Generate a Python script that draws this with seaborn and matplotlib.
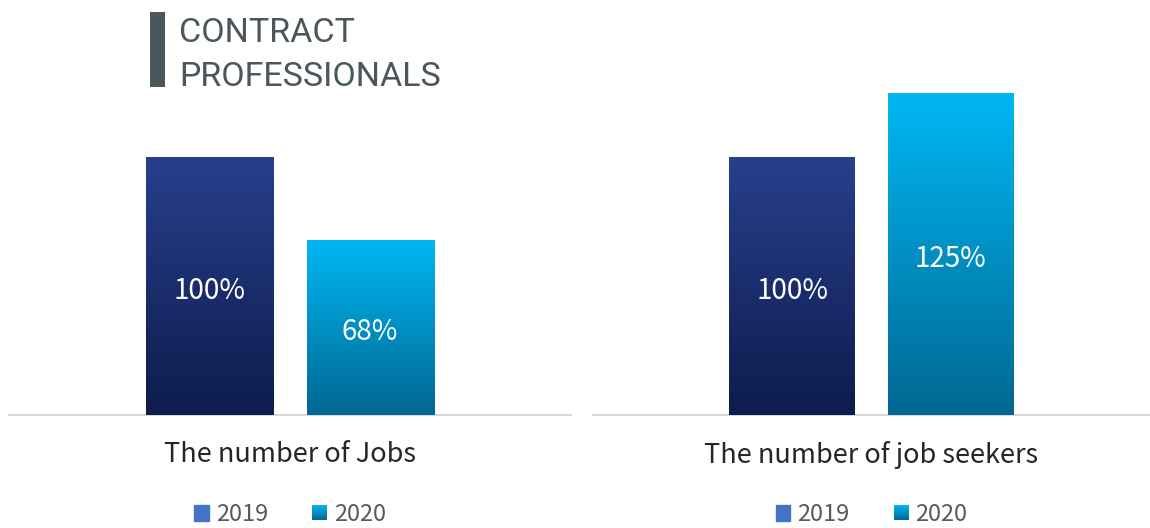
import numpy as np
import pandas as pd
import seaborn as sns
import matplotlib.pyplot as plt
from matplotlib.legend_handler import HandlerBase
from matplotlib.image import BboxImage
from matplotlib.transforms import Bbox, TransformedBbox
from matplotlib.colors import LinearSegmentedColormap
from matplotlib.patches import Rectangle

# --- data -------------------------------------------------------------
categories = ["The number of Jobs", "The number of job seekers"]
years = ["2019", "2020"]
jobs = [100, 68]
job_seekers = [100, 125]
brand = ["CONTRACT", "PROFESSIONALS"]

# --- style ------------------------------------------------------------
sns.set_theme(style="white")
plt.rcParams["font.family"] = ["Noto Sans CJK JP", "DejaVu Sans"]

W, H = 1150, 528
fig = plt.figure(figsize=(W / 100, H / 100), dpi=100)

cmap_2019 = LinearSegmentedColormap.from_list("c2019", ["#273f8c", "#0e1c4c"])
cmap_2020 = LinearSegmentedColormap.from_list("c2020", ["#00b7f3", "#006893"])
legend_2019 = "#4472c4"
axis_grey = "#d9d9d9"
text_dark = "#262626"
legend_grey = "#595959"


class GradientSquare(HandlerBase):
    """Legend handle drawn as a square filled with a vertical gradient."""

    def __init__(self, cmap):
        super().__init__()
        self.cmap = cmap

    def create_artists(self, legend, orig_handle, xdescent, ydescent,
                       width, height, fontsize, trans):
        s = min(width, height)
        bb = Bbox.from_bounds(-xdescent + (width - s) / 2,
                              -ydescent + (height - s) / 2, s, s)
        img = BboxImage(TransformedBbox(bb, trans), cmap=self.cmap,
                        interpolation="bicubic", origin="upper")
        img.set_data(np.linspace(0, 1, 64).reshape(-1, 1))
        return [img]


def px_axes(x0, x1, ybase, ytop):
    return fig.add_axes([x0 / W, (H - ybase) / H, (x1 - x0) / W, (ybase - ytop) / H])


def panel(ax, category, values):
    df = pd.DataFrame({"cat": [category] * len(years), "year": years, "value": values})
    sns.barplot(data=df, x="cat", y="value", hue="year",
                palette=[legend_2019, "#00a0dc"], saturation=1,
                width=0.57, gap=0.207, ax=ax, legend=False)
    for cont, cmap in zip(ax.containers, [cmap_2019, cmap_2020]):
        for bar in cont:
            x0, w, h = bar.get_x(), bar.get_width(), bar.get_height()
            ax.imshow(np.linspace(0, 1, 128).reshape(-1, 1), cmap=cmap,
                      extent=[x0, x0 + w, 0, h], origin="upper",
                      aspect="auto", interpolation="bicubic", zorder=2)
            bar.set_visible(False)
        texts = ax.bar_label(cont, labels=[f"{v:.0f}%" for v in cont.datavalues],
                             label_type="center", color="white", fontsize=20, zorder=3)
        for t in texts:
            t.xyann = (0, -3.5)
    ax.set_xlim(-0.5, 0.5)
    ax.set_ylim(0, 140)
    ax.set_yticks([])
    ax.set_xlabel("")
    ax.set_ylabel("")
    ax.set_xticks([0])
    ax.set_xticklabels([category], fontsize=19.5, color=text_dark)
    ax.tick_params(axis="x", length=0, pad=18.5)
    for side in ["top", "left", "right"]:
        ax.spines[side].set_visible(False)
    ax.spines["bottom"].set_color(axis_grey)
    ax.spines["bottom"].set_linewidth(1.6)
    ax.spines["bottom"].set_zorder(1)

    handles = [Rectangle((0, 0), 1, 1, color=legend_2019),
               Rectangle((0, 0), 1, 1, color="#00a0dc")]
    leg = ax.legend(handles, years, loc="center", bbox_to_anchor=(0.5, -0.277),
                    ncol=2, frameon=False, fontsize=17,
                    handlelength=0.62, handleheight=0.62, handletextpad=0.3,
                    columnspacing=1.86,
                    handler_map={handles[1]: GradientSquare(cmap_2020)})
    for t in leg.get_texts():
        t.set_color(legend_grey)


ax1 = px_axes(9, 571, 415, 55)
panel(ax1, categories[0], jobs)
ax2 = px_axes(593, 1150, 415, 55)
panel(ax2, categories[1], job_seekers)

# --- brand mark -------------------------------------------------------
brand_color = "#4a575b"
fig.add_artist(Rectangle((150 / W, 1 - 87 / H), 15 / W, 75 / H,
                         transform=fig.transFigure, color=brand_color, lw=0))
for line, base in zip(brand, [42, 86]):
    fig.text(179 / W, 1 - base / H, line, ha="left", va="baseline",
             fontsize=24.5, color=brand_color, fontweight="normal",
             family=["Roboto", "DejaVu Sans"])

fig.savefig("out.png", dpi=100)
